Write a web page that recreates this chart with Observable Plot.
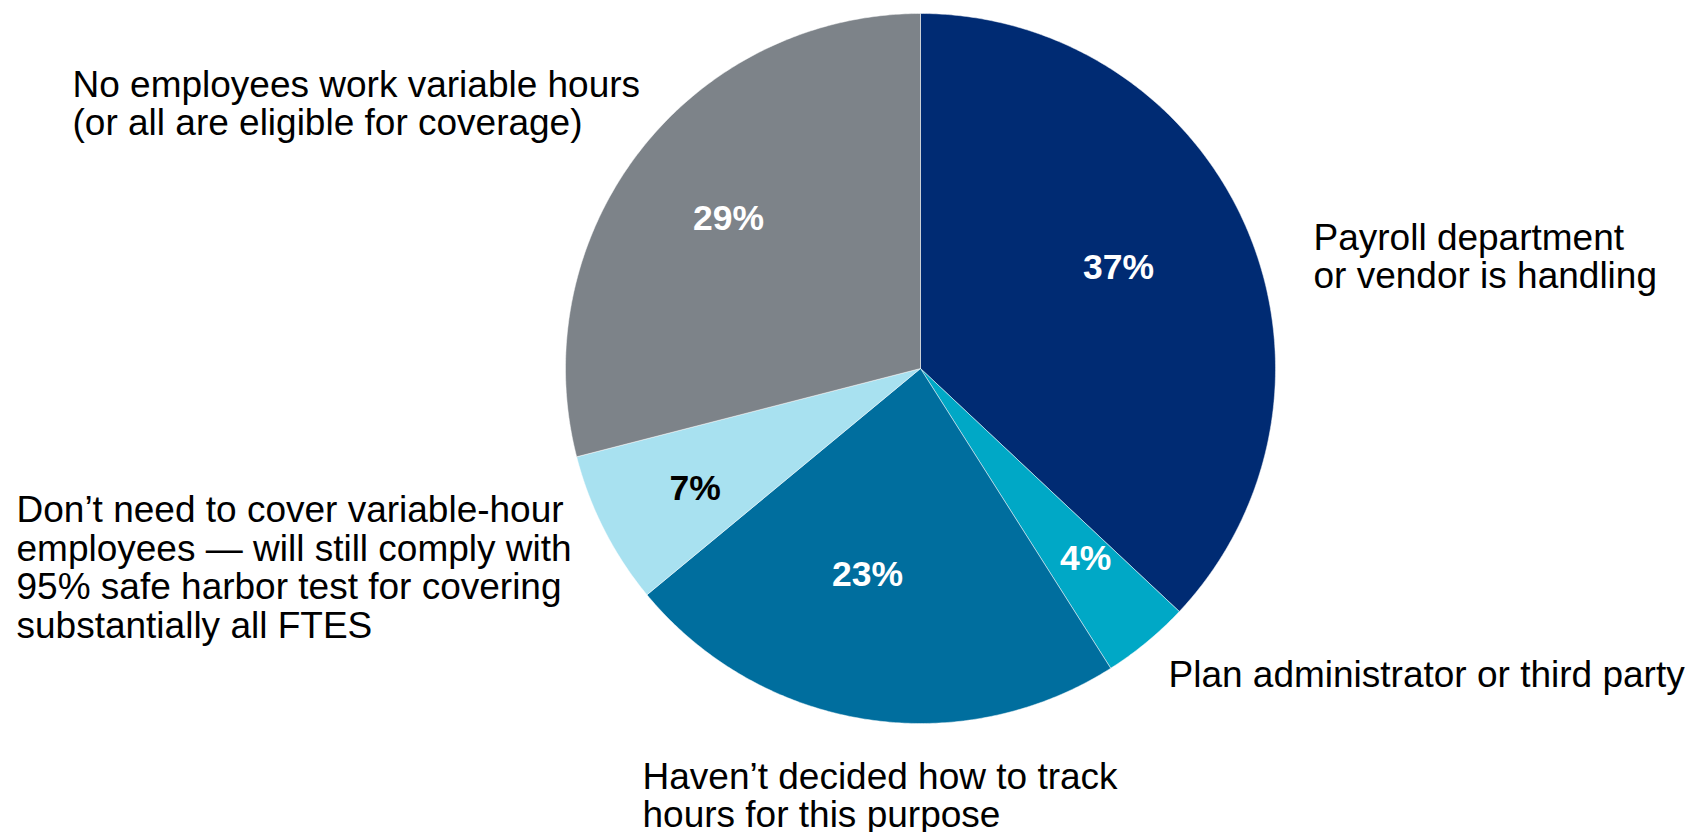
<!DOCTYPE html>
<html>
<head>
<meta charset="utf-8">
<script src="https://cdn.jsdelivr.net/npm/d3@7"></script>
<script src="https://cdn.jsdelivr.net/npm/@observablehq/plot@0.6"></script>
<style>
  html, body { margin: 0; padding: 0; background: #ffffff; }
  #chart svg { display: block; overflow: visible; }
</style>
</head>
<body>
<div id="chart"></div>
<script>
// ---- data ----
const categories = [
  "Payroll department\nor vendor is handling",
  "Plan administrator or third party",
  "Haven’t decided how to track\nhours for this purpose",
  "Don’t need to cover variable-hour\nemployees — will still comply with\n95% safe harbor test for covering\nsubstantially all FTES",
  "No employees work variable hours\n(or all are eligible for coverage)"
];
const values = [37, 4, 23, 7, 29];
const valueLabels = ["37%", "4%", "23%", "7%", "29%"];
const colors = ["#002b73", "#00a8c6", "#006e9e", "#a8e1f0", "#7d8389"];

// ---- layout (pie units: radius = 1, centre = 0,0) ----
const W = 1699, H = 832;
const CX = 920, CY = 368, R = 355;
const pctPos = [[0.558, 0.283], [0.465, -0.535], [-0.149, -0.58], [-0.635, -0.337], [-0.541, 0.423]];
const pctDark = [false, false, false, true, false];
// category label positions in pixels (left x, vertical centre of block)
const catPx = [[1313, 256], [1168, 674], [642, 795], [16, 567], [72, 103]];

// ---- build slice polygons ----
const arcs = d3.pie().sort(null).value(d => d)(values);
const slicePts = [];
arcs.forEach((a, i) => {
  const name = categories[i];
  slicePts.push({name, x: 0, y: 0});
  const steps = Math.max(4, Math.ceil((a.endAngle - a.startAngle) / (Math.PI / 360)));
  for (let k = 0; k <= steps; k++) {
    const t = a.startAngle + (a.endAngle - a.startAngle) * k / steps;
    slicePts.push({name, x: Math.sin(t), y: Math.cos(t)});
  }
  slicePts.push({name, x: 0, y: 0});
});

const pctData = values.map((v, i) => ({label: valueLabels[i], x: pctPos[i][0], y: pctPos[i][1], dark: pctDark[i]}));
const catData = categories.map((c, i) => ({
  label: c,
  x: (catPx[i][0] - CX) / R,
  y: (CY - catPx[i][1]) / R
}));

const font = "'Liberation Sans', Arial, sans-serif";

const chart = Plot.plot({
  width: W,
  height: H,
  margin: 0,
  style: {background: "#ffffff", fontFamily: font},
  x: {domain: [-1, 1], range: [CX - R, CX + R], axis: null},
  y: {domain: [-1, 1], range: [CY + R, CY - R], axis: null},
  color: {domain: categories, range: colors},
  marks: [
    Plot.line(slicePts, {x: "x", y: "y", z: "name", fill: "name", stroke: "#ffffff", strokeWidth: 0.8, strokeOpacity: 0.6}),
    Plot.text(pctData.filter(d => !d.dark), {x: "x", y: "y", text: "label", fill: "#ffffff", fontSize: 35.5, fontWeight: "bold", fontFamily: font}),
    Plot.text(pctData.filter(d => d.dark), {x: "x", y: "y", text: "label", fill: "#000000", fontSize: 35.5, fontWeight: "bold", fontFamily: font}),
    Plot.text(catData, {x: "x", y: "y", text: "label", fill: "#000000", fontSize: 37, fontFamily: font, textAnchor: "start", lineAnchor: "middle", lineHeight: 1.045})
  ]
});
document.getElementById("chart").appendChild(chart);
</script>
</body>
</html>
